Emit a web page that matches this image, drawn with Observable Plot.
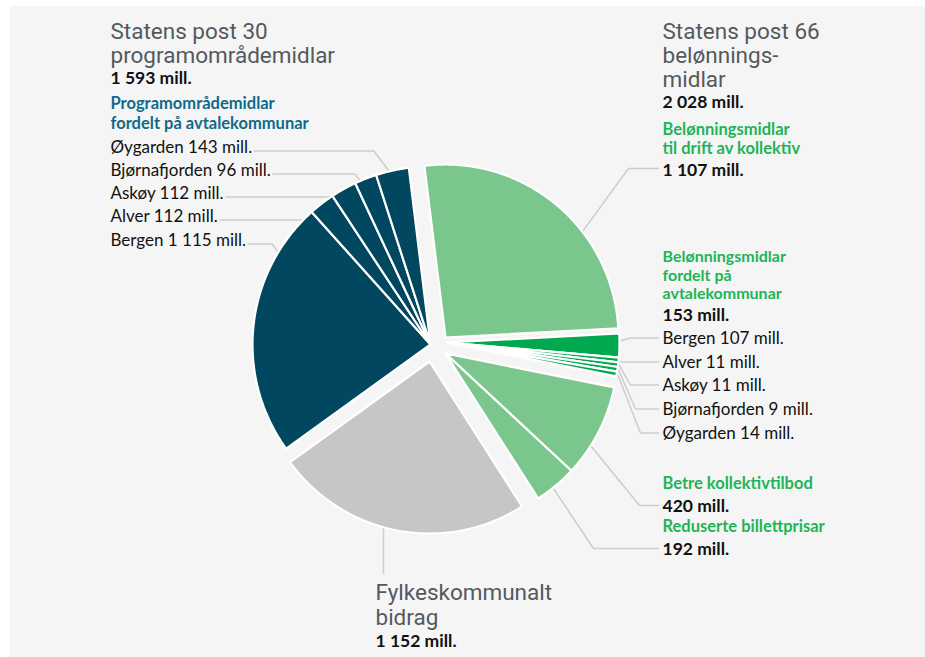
<!DOCTYPE html>
<html><head><meta charset="utf-8">
<script src="https://cdn.jsdelivr.net/npm/d3@7"></script>
<script src="https://cdn.jsdelivr.net/npm/@observablehq/plot@0.6"></script>
<style>
body{margin:0;background:#fff;}
#wrap{position:relative;width:925px;height:657px;overflow:hidden;}
#panel{position:absolute;left:10px;top:6px;right:0;bottom:0;background:#f5f5f5;}
#chart{position:absolute;left:0;top:0;}
</style></head><body>
<div id="wrap"><div id="panel"></div><div id="chart"></div></div>
<script>
// ---------- DATA ----------
const groupNames = [
  "Belønningsmidlar til drift av kollektiv",
  "Belønningsmidlar fordelt på avtalekommunar",
  "Betre kollektivtilbod / Reduserte billettprisar",
  "Fylkeskommunalt bidrag",
  "Programområdemidlar fordelt på avtalekommunar"
];
const sliceNames = ["Til drift av kollektiv","Bergen","Alver","Askøy","Bjørnafjorden","Øygarden",
  "Betre kollektivtilbod","Reduserte billettprisar","Fylkeskommunalt bidrag",
  "Bergen","Alver","Askøy","Bjørnafjorden","Øygarden"];
const sliceGroup  = [0,1,1,1,1,1,2,2,3,4,4,4,4,4];
// slice sizes as drawn in the picture (mill. kr)
const sliceValues = [1248,107,11,11,9,14,420,192,1152,1115,112,112,96,143];

// text content
const titleLeft   = ["Statens post 30","programområdemidlar"];
const totalLeft   = "1 593 mill.";
const subLeft     = ["Programområdemidlar","fordelt på avtalekommunar"];
const kommune30   = ["Øygarden 143 mill.","Bjørnafjorden 96 mill.","Askøy 112 mill.","Alver 112 mill.","Bergen 1 115 mill."];
const titleRight  = ["Statens post 66","belønnings-","midlar"];
const totalRight  = "2 028 mill.";
const subDrift    = ["Belønningsmidlar","til drift av kollektiv"];
const valDrift    = "1 107 mill.";
const subKommune66= ["Belønningsmidlar","fordelt på","avtalekommunar"];
const valKommune66= "153 mill.";
const kommune66   = ["Bergen 107 mill.","Alver 11 mill.","Askøy 11 mill.","Bjørnafjorden 9 mill.","Øygarden 14 mill."];
const subTilbod   = "Betre kollektivtilbod";
const valTilbod   = "420 mill.";
const subBillett  = "Reduserte billettprisar";
const valBillett  = "192 mill.";
const titleBottom = ["Fylkeskommunalt","bidrag"];
const totalBottom = "1 152 mill.";

// ---------- STYLE / LAYOUT ----------
const groupColors = ["#7bc68d","#00a94f","#7bc68d","#c6c6c6","#00475f"];
const groupApex = [{x:445,y:337},{x:447,y:342},{x:445,y:353},{x:429,y:361},{x:430,y:344}];
const groupR    = [173,172,172,172,178];
const minDisplay = 21;   // thin slices are drawn with a minimum visible width
const startDeg = -7;
const rad = d => d*Math.PI/180;

const slices = sliceValues.map((v,i)=>({i, name:sliceNames[i], group:sliceGroup[i], value:v}));
const arcs = d3.pie().sort(null).value(d=>Math.max(d.value,minDisplay))
  .startAngle(rad(startDeg)).endAngle(rad(startDeg)+2*Math.PI)(slices);

const pt = (gi,ang,r)=>({x:groupApex[gi].x + r*Math.sin(ang), y:groupApex[gi].y - r*Math.cos(ang)});

const polys = [];
arcs.forEach(d=>{
  const gi = d.data.group, ap = groupApex[gi];
  const n = Math.max(2, Math.ceil((d.endAngle-d.startAngle)/rad(0.5)));
  polys.push({id:d.data.i, group:gi, x:ap.x, y:ap.y});
  for(let k=0;k<=n;k++){
    const t = d.startAngle + (d.endAngle-d.startAngle)*k/n;
    const p = pt(gi,t,groupR[gi]);
    polys.push({id:d.data.i, group:gi, x:p.x, y:p.y});
  }
  polys.push({id:d.data.i, group:gi, x:ap.x, y:ap.y});
});

const ctx = document.createElement("canvas").getContext("2d");
const measure = (s,font)=>{ctx.font=font; return ctx.measureText(s).width;};

const LX = 110, RX = 662, BX = 375;
const labelFont = "Lato, 'Open Sans', sans-serif";
const titleFont = "Roboto, 'Noto Sans', sans-serif";

const texts = [];
titleLeft.forEach((t,k)=>texts.push({x:LX,y:38+24*k,text:t,cls:"title"}));
texts.push({x:LX,y:83,text:totalLeft,cls:"num"});
subLeft.forEach((t,k)=>texts.push({x:LX,y:108+20*k,text:t,cls:"blue"}));
const k30Y = [152,175,198,221,245];
kommune30.forEach((t,k)=>texts.push({x:LX,y:k30Y[k],text:t,cls:"lab"}));
titleRight.forEach((t,k)=>texts.push({x:RX,y:38+24*k,text:t,cls:"title"}));
texts.push({x:RX,y:107,text:totalRight,cls:"num"});
subDrift.forEach((t,k)=>texts.push({x:RX,y:134+19*k,text:t,cls:"green"}));
texts.push({x:RX,y:175,text:valDrift,cls:"num"});
subKommune66.forEach((t,k)=>texts.push({x:RX,y:261.5+18.5*k,text:t,cls:"green2"}));
texts.push({x:RX,y:320,text:valKommune66,cls:"num"});
const k66Y = [343,367,390,414,438];
kommune66.forEach((t,k)=>texts.push({x:RX,y:k66Y[k],text:t,cls:"lab"}));
texts.push({x:RX,y:488,text:subTilbod,cls:"green"});
texts.push({x:RX,y:511,text:valTilbod,cls:"num"});
texts.push({x:RX,y:531,text:subBillett,cls:"green"});
texts.push({x:RX,y:554,text:valBillett,cls:"num"});
titleBottom.forEach((t,k)=>texts.push({x:BX,y:599+25*k,text:t,cls:"title"}));
texts.push({x:BX,y:646,text:totalBottom,cls:"num"});

const styles = {
  title:{fontSize:22.5, fontWeight:400, fill:"#54595d", fontFamily:titleFont},
  num:{fontSize:17.5, fontWeight:700, fill:"#111", fontFamily:labelFont},
  blue:{fontSize:16.5, fontWeight:700, fill:"#10698a", fontFamily:labelFont},
  green:{fontSize:16.5, fontWeight:700, fill:"#1db455", fontFamily:labelFont},
  green2:{fontSize:16, fontWeight:700, fill:"#1db455", fontFamily:labelFont},
  lab:{fontSize:17, fontWeight:400, fill:"#111", fontFamily:labelFont}
};

// ---------- LEADERS ----------
const leaders = [];
function arcPoint(sliceIdx, f){
  const d = arcs[sliceIdx], gi = d.data.group;
  return pt(gi, d.startAngle + f*(d.endAngle-d.startAngle), groupR[gi]+1);
}
function hitH(sliceIdx, y, side){
  const gi = arcs[sliceIdx].data.group, ap = groupApex[gi], r = groupR[gi]+1;
  const dy = y-ap.y; const dx = Math.sqrt(Math.max(0,r*r-dy*dy));
  return {x: ap.x + side*dx, y};
}
function hitV(sliceIdx, x){
  const gi = arcs[sliceIdx].data.group, ap = groupApex[gi], r = groupR[gi]+1;
  const dx = x-ap.x; const dy = Math.sqrt(Math.max(0,r*r-dx*dx));
  return {x, y: ap.y + dy};
}
let lid = 0;
function addLeader(points){ const id = lid++; points.forEach(p=>leaders.push({id, x:p.x, y:p.y})); }

const lfont = `17px ${labelFont}`;
const leftSpec = [
  {slice:13, f:0.39},
  {slice:12, f:0.23},
  {slice:11, h:true},
  {slice:10, h:true},
  {slice:9,  f:0.8}
];
leftSpec.forEach((s,k)=>{
  const y = k30Y[k]-1.5;
  const x0 = LX + measure(kommune30[k], lfont) + 2;
  if(s.h){ addLeader([{x:x0,y}, hitH(s.slice,y,-1)]); }
  else{
    const e = arcPoint(s.slice, s.f);
    const ex = e.x - 0.75*(e.y - y);
    addLeader([{x:x0,y},{x:ex,y},e]);
  }
});
const RL = RX - 4;
const rightSpec = [
  {slice:0, f:0.63, y:168, ex:628},
  {slice:1, f:0.3, y:k66Y[0]-5.5, ex:630},
  {slice:2, h:true, y:k66Y[1]-5.5},
  {slice:3, f:0.5, y:k66Y[2]-5.5, ex:630},
  {slice:4, f:0.5, y:k66Y[3]-5.5, ex:635},
  {slice:5, f:0.5, y:k66Y[4]-5.5, ex:640},
  {slice:6, f:0.67, y:505, ex:639},
  {slice:7, f:0.58, y:548, ex:593}
];
rightSpec.forEach(s=>{
  if(s.h){ addLeader([{x:RL,y:s.y}, hitH(s.slice,s.y,1)]); }
  else { addLeader([{x:RL,y:s.y},{x:s.ex,y:s.y},arcPoint(s.slice,s.f)]); }
});
addLeader([hitV(8, 383), {x:383, y:573}]);

// ---------- PLOT ----------
const marks = [];
marks.push(Plot.line(leaders,{x:"x",y:"y",z:"id",stroke:"#cdcdcd",strokeWidth:1.5}));
groupNames.forEach((g,gi)=>{
  marks.push(Plot.line(polys.filter(p=>p.group===gi),{x:"x",y:"y",z:"id",fill:groupColors[gi],
    stroke:"#ffffff",strokeWidth:2.2,strokeLinejoin:"miter"}));
});
Object.entries(styles).forEach(([cls,st])=>{
  marks.push(Plot.text(texts.filter(t=>t.cls===cls),{x:"x",y:"y",text:"text",textAnchor:"start",lineAnchor:"bottom",...st}));
});

const chart = Plot.plot({
  width:925, height:657, margin:0,
  x:{domain:[0,925], range:[0,925], axis:null},
  y:{domain:[0,657], range:[0,657], axis:null},
  style:{background:"transparent", overflow:"visible"},
  marks
});
document.getElementById("chart").appendChild(chart);
</script>
</body></html>
